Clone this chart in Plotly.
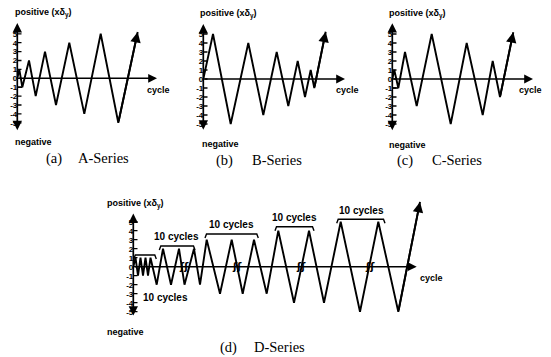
import plotly.graph_objects as go

W, H = 551, 357

# ---- data (cycle position, displacement in multiples of δy) ----
a_t = [0, 2, 5, 11.7, 18.4, 27.7, 38.7, 52, 67, 83.4, 101, 120.4]
a_d = [0, 1, -1, 2, -2, 3, -3, 4, -4, 5, -5, 5.2]
b_t = [0, 9.7, 27.4, 45, 60, 73.4, 85, 94.4, 101.7, 107.4, 111, 122.4]
b_d = [0, 5, -5, 4, -4, 3, -3, 2, -2, 1, -1, 5.25]
c_t = [0, 2, 6, 12.7, 24.4, 39.4, 58.4, 74.4, 90.4, 100.4, 107.7, 121]
c_d = [0, 1, -1, 3, -3, 5, -5, 4, -4, 2, -2, 5.2]
d_t = [0, 2.2, 4.7, 7.2, 9.7, 12.2, 14.7, 17.2,
       23.4, 29.7, 37.7, 45.7, 51.2, 60.7, 66.7,
       73.4, 86.7, 98.4, 109.4, 120.7, 133.4,
       145, 160.7, 175.7, 190.7,
       207.4, 226.7, 245, 265, 286.7]
d_d = [0, 1, -1, 1, -1, 1, -1, 1,
       -2, 2, -2, 2, -2, 2, -2,
       3, -3, 3, -3, 3, -3,
       4, -4, 4, -4,
       5, -5, 5, -5, 7.2]
tick_vals = [5, 4, 3, 2, 1, 0, -1, -2, -3, -4, -5]
tick_text = ["5", "4", "3", "2", "1", "0", "-1", "-2", "-3", "-4", "-5"]
group_label = "10 cycles"

# ---- layout geometry (pixels) ----
# name: (axis x px, zero y px, px per unit, x width units, y lo, y hi, vaxis lo, vaxis hi, haxis end)
panels = {
    "a": (17.3, 78.3, 8.9, 150, -6.5, 6.5, -6.0, 6.2, 139.7),
    "b": (203.3, 79.0, 9.0, 150, -6.5, 6.5, -5.8, 6.1, 141.7),
    "c": (392.3, 79.0, 9.0, 150, -6.5, 6.5, -5.85, 6.2, 140.7),
    "d": (133.3, 266.7, 9.0, 320, -7.0, 8.0, -5.6, 5.9, 283.4),
}
series = {"a": (a_t, a_d), "b": (b_t, b_d), "c": (c_t, c_d), "d": (d_t, d_d)}
axnames = {"a": ("x", "y"), "b": ("x2", "y2"), "c": ("x3", "y3"), "d": ("x4", "y4")}

fig = go.Figure()
annotations = []
LBL = dict(family="Liberation Sans, Arial", size=9, color="black", weight="bold")
CAP = dict(family="Liberation Serif, Times New Roman", size=14.5, color="black")


def arrow(xr, yr, x0, y0, x1, y1, side="end", w=1.6):
    return dict(x=x1, y=y1, ax=x0, ay=y0, xref=xr, yref=yr, axref=xr, ayref=yr,
                showarrow=True, arrowhead=2, arrowsize=1.1, arrowwidth=w,
                arrowcolor="black", text="", arrowside=side, standoff=0, startstandoff=0)


def ptext(txt, x, y, font, xanchor="left"):
    return dict(text=txt, x=x / W, y=1 - y / H, xref="paper", yref="paper",
                showarrow=False, font=font, xanchor=xanchor, yanchor="middle")


for key, (ax0, z0, u, xw, ylo, yhi, vlo, vhi, hend) in panels.items():
    xr, yr = axnames[key]
    xa = "xaxis" + xr[1:]
    ya = "yaxis" + yr[1:]
    top = z0 - yhi * u
    bot = z0 - ylo * u
    fig.update_layout({
        xa: dict(domain=[ax0 / W, (ax0 + xw) / W], range=[0, xw], visible=False,
                 anchor=yr),
        ya: dict(domain=[1 - bot / H, 1 - top / H], range=[ylo, yhi], anchor=xr,
                 showgrid=False, zeroline=False, showline=False, ticks="",
                 tickvals=tick_vals, ticktext=tick_text, ticklabelstandoff=-1,
                 tickfont=dict(family="Liberation Sans, Arial", size=8, color="black",
                               weight="bold")),
    })
    t, d = series[key]
    fig.add_trace(go.Scatter(x=t, y=d, mode="lines", xaxis=xr, yaxis=yr,
                             line=dict(color="black", width=1.9), hoverinfo="skip"))
    # tick marks crossing the vertical axis
    fig.add_trace(go.Scatter(x=[0] * len(tick_vals), y=tick_vals, mode="markers",
                             xaxis=xr, yaxis=yr, hoverinfo="skip",
                             marker=dict(symbol="line-ew", size=6,
                                         line=dict(color="black", width=1.3))))
    # axes with arrowheads
    annotations.append(arrow(xr, yr, 0, vlo, 0, vhi, side="end+start", w=1.7))
    annotations.append(arrow(xr, yr, 0, 0, hend, 0, w=1.6))
    # arrow on the last load step
    annotations.append(arrow(xr, yr, t[-2], d[-2], t[-1], d[-1], w=1.9))

# step lines at -1 (A and C)
fig.add_trace(go.Scatter(x=[0, a_t[2]], y=[a_d[2], a_d[2]], mode="lines", xaxis="x",
                         yaxis="y", line=dict(color="black", width=1.5), hoverinfo="skip"))
fig.add_trace(go.Scatter(x=[0, c_t[2]], y=[c_d[2], c_d[2]], mode="lines", xaxis="x3",
                         yaxis="y3", line=dict(color="black", width=1.5), hoverinfo="skip"))

# braces over the D-series groups (x0, x1, level)
braces = [(0.5, 23, 1.3), (26, 61.7, 2.3), (71.7, 125, 3.63), (141.7, 180.7, 4.44),
          (203.4, 251.7, 5.27)]
for x0, x1, lv in braces:
    fig.add_trace(go.Scatter(x=[x0, x0 + 1.5, x1 - 1.5, x1], y=[lv - 0.45, lv, lv, lv - 0.45],
                             mode="lines", xaxis="x4", yaxis="y4", hoverinfo="skip",
                             line=dict(color="black", width=1.4)))
group_pos = [(31.7, -3.4), (43.2, 3.35), (98.2, 4.65), (160.7, 5.45), (228.2, 6.25)]
for gx, gy in group_pos:
    annotations.append(dict(text=group_label, x=gx, y=gy, xref="x4", yref="y4",
                            showarrow=False, font=dict(LBL, size=10)))
# break marks on D axis
for bx in [50.7, 103.4, 167.4, 236.7]:
    annotations.append(dict(text="ʃʃ", x=bx, y=0, xref="x4", yref="y4", showarrow=False,
                            font=dict(family="DejaVu Sans", size=10, color="black",
                                      weight="bold")))

# text labels
for (px, py) in [(13, 13), (198, 14), (387, 14), (105, 204)]:
    annotations.append(ptext("positive (xδ<sub>y</sub>)", px, py, LBL))
for (px, py) in [(13, 142), (200, 143.5), (387, 144.5), (105, 332)]:
    annotations.append(ptext("negative", px, py, LBL))
for (px, py) in [(145, 89.5), (334, 89.5), (517, 89.5), (418, 278)]:
    annotations.append(ptext("cycle", px, py, LBL))

captions = [("(a)", 54, 158), ("A-Series", 103, 158), ("(b)", 224.5, 160), ("B-Series", 276.5, 160),
            ("(c)", 405, 160), ("C-Series", 456.5, 160), ("(d)", 228, 347), ("D-Series", 279, 347)]
for txt, px, py in captions:
    annotations.append(ptext(txt, px, py, CAP, xanchor="center"))

fig.update_layout(width=W, height=H, margin=dict(l=0, r=0, t=0, b=0), autosize=False,
                  showlegend=False, paper_bgcolor="white", plot_bgcolor="white",
                  annotations=annotations, hovermode=False)
fig.write_html("out.html")
